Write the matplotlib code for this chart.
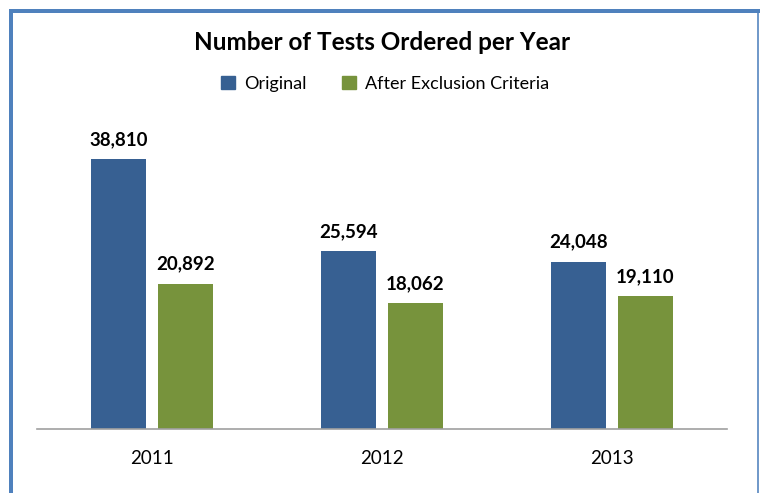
import matplotlib
matplotlib.use("Agg")
import matplotlib.pyplot as plt
from matplotlib.patches import Rectangle
import numpy as np

years = ["2011", "2012", "2013"]
original = [38810, 25594, 24048]
after_exclusion = [20892, 18062, 19110]
series_names = ["Original", "After Exclusion Criteria"]

BLUE = "#376092"
GREEN = "#77933C"
FRAME = "#4F81BD"

plt.rcParams["font.family"] = ["Lato", "DejaVu Sans"]

W, H = 760, 493
fig = plt.figure(figsize=(W / 100, H / 100), dpi=100)

def fx(px):
    return px / W

def fy(py):
    return 1 - py / H

# outer frame (top and left thick, right thin)
fig.add_artist(Rectangle((fx(9), fy(13)), fx(751), 4 / H, transform=fig.transFigure,
                         color=FRAME, lw=0))
fig.add_artist(Rectangle((fx(9), 0), 4 / W, fy(9), transform=fig.transFigure,
                         color=FRAME, lw=0))
fig.add_artist(Rectangle((fx(757), 0), 2 / W, fy(13), transform=fig.transFigure,
                         color=FRAME, lw=0, alpha=0.8))

ax_left, ax_right, ax_bottom = 37, 727, 429
ymax = 45000
px_per_unit = 270 / 38810
ax_top = ax_bottom - ymax * px_per_unit
ax = fig.add_axes([fx(ax_left), fy(ax_bottom), fx(ax_right - ax_left), (ax_bottom - ax_top) / H])

x = np.arange(len(years))
bw = 0.239
off = 0.1457
b1 = ax.bar(x - off, original, bw, color=BLUE)
b2 = ax.bar(x + off, after_exclusion, bw, color=GREEN)

for bars, vals in ((b1, original), (b2, after_exclusion)):
    for r, v in zip(bars, vals):
        ax.annotate(f"{v:,}", (r.get_x() + r.get_width() / 2, v), xytext=(0, 8),
                    textcoords="offset points", ha="center", va="bottom",
                    fontsize=13.5, fontweight="bold", color="black")

ax.set_xlim(-0.5, 2.5)
ax.set_ylim(0, ymax)
ax.set_xticks(x)
ax.set_xticklabels(years, fontsize=13.5)
ax.tick_params(axis="x", length=0, pad=15)
ax.set_yticks([])
for s in ("top", "right", "left"):
    ax.spines[s].set_visible(False)
ax.spines["bottom"].set_color("#A0A0A0")
ax.spines["bottom"].set_linewidth(1.2)

fig.text(fx(382), fy(42), "Number of Tests Ordered per Year", ha="center", va="center",
         fontsize=17.5, fontweight="bold")

handles = [Rectangle((0, 0), 1, 1, color=BLUE), Rectangle((0, 0), 1, 1, color=GREEN)]
fig.legend(handles, series_names, loc="center", bbox_to_anchor=(fx(385), fy(84)),
           ncol=2, frameon=False, fontsize=13, handlelength=0.75, handleheight=0.75,
           handletextpad=0.5, columnspacing=2.0)

fig.savefig("out.png", dpi=100)
